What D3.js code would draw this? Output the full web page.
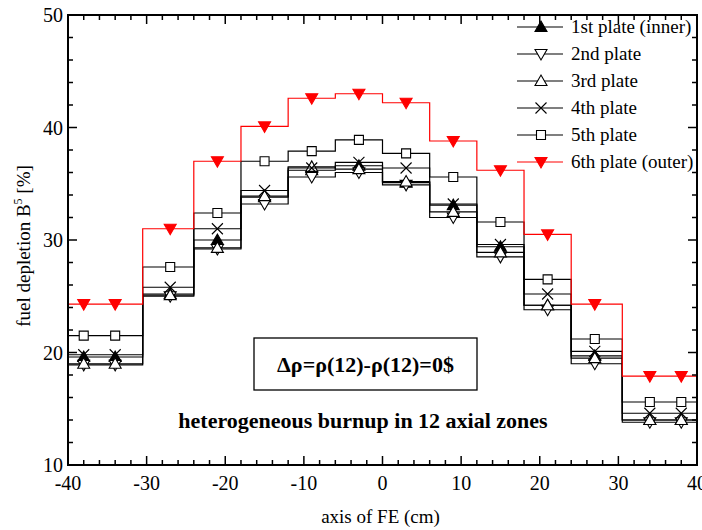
<!DOCTYPE html>
<html><head><meta charset="utf-8">
<script src="https://cdn.jsdelivr.net/npm/d3@7"></script>
<style>
html,body{margin:0;padding:0;background:#fff;}
svg{display:block;font-family:"Liberation Serif","Times New Roman",serif;}
</style></head>
<body>
<svg id="chart" width="702" height="530"></svg>
<script>
// ---- data ----
const zoneEdges = [-40, -30.5, -24, -18, -12, -6, 0, 6, 12, 18, 24, 30.5, 40];
const markerX = [-38, -34, -27, -21, -15, -9, -3, 3, 9, 15, 21, 27, 34, 38];
const markerZone = [0, 0, 1, 2, 3, 4, 5, 6, 7, 8, 9, 10, 11, 11];
const seriesNames = ["1st plate (inner)", "2nd plate", "3rd plate", "4th plate", "5th plate", "6th plate (outer)"];
const plate1 = [19.6, 25.2, 30.0, 33.8, 36.2, 36.6, 35.1, 33.1, 29.4, 24.2, 19.7, 14.0];
const plate2 = [18.9, 25.0, 29.2, 33.2, 35.6, 36.0, 34.9, 32.0, 28.5, 23.8, 19.0, 13.8];
const plate3 = [19.0, 25.1, 29.3, 33.9, 36.5, 36.3, 35.2, 32.5, 28.9, 24.2, 19.5, 14.0];
const plate4 = [19.8, 25.8, 31.0, 34.4, 36.4, 36.9, 36.4, 33.2, 29.6, 25.2, 20.1, 14.6];
const plate5 = [21.5, 27.6, 32.4, 37.0, 37.9, 38.9, 37.7, 35.6, 31.6, 26.5, 21.2, 15.6];
const plate6 = [24.3, 31.0, 37.0, 40.1, 42.6, 43.0, 42.2, 38.8, 36.2, 30.5, 24.3, 17.9];
const xTicks = [-40, -30, -20, -10, 0, 10, 20, 30, 40];
const yTicks = [10, 20, 30, 40, 50];
const xLabel = "axis of FE (cm)";
const annotation1 = "\u0394\u03c1=\u03c1(12)-\u03c1(12)=0$";
const annotation2 = "heterogeneous burnup in 12 axial zones";

// ---- style ----
const styles = [
  {sym: "tri", fill: "#000", stroke: "#000", line: "#000"},
  {sym: "dtri", fill: "#fff", stroke: "#000", line: "#000"},
  {sym: "tri", fill: "#fff", stroke: "#000", line: "#000"},
  {sym: "x", fill: "none", stroke: "#000", line: "#000"},
  {sym: "sq", fill: "#fff", stroke: "#000", line: "#000"},
  {sym: "dtri", fill: "#ff0000", stroke: "#ff0000", line: "#ff0000"}
];
const allSeries = [plate1, plate2, plate3, plate4, plate5, plate6];

const svg = d3.select("#chart");
const L = 68, R = 697, T = 15, B = 465;
const x = d3.scaleLinear().domain([-40, 40]).range([L, R]);
const y = d3.scaleLinear().domain([10, 50]).range([B, T]);

function symPath(s) {
  if (s === "tri") return "M-6,4.5L6,4.5L0,-6Z";
  if (s === "dtri") return "M-6,-4.5L6,-4.5L0,6Z";
  if (s === "sq") return "M-4.5,-4.5H4.5V4.5H-4.5Z";
  if (s === "x") return "M-5.5,-5.5L5.5,5.5M-5.5,5.5L5.5,-5.5";
}

// ---- series ----
allSeries.forEach((vals, si) => {
  const st = styles[si];
  const pts = [];
  vals.forEach((v, i) => {
    pts.push([zoneEdges[i], v]);
    pts.push([zoneEdges[i + 1], v]);
  });
  const line = d3.line().x(d => x(d[0])).y(d => y(d[1]));
  svg.append("path").attr("d", line(pts)).attr("fill", "none")
    .attr("stroke", st.line).attr("stroke-width", 1.2);
  const g = svg.append("g");
  markerX.forEach((mx, k) => {
    g.append("path").attr("d", symPath(st.sym))
      .attr("transform", `translate(${x(mx)},${y(vals[markerZone[k]])})`)
      .attr("fill", st.fill).attr("stroke", st.stroke).attr("stroke-width", 1.1);
  });
});

// ---- axes (inward ticks on all four sides) ----
const axG = svg.append("g");
function drawXTicks(yPos, dir) {
  x.ticks(40).forEach(v => {
    const len = xTicks.includes(v) ? 9 : 5;
    axG.append("line").attr("x1", x(v)).attr("x2", x(v))
      .attr("y1", yPos).attr("y2", yPos + dir * len)
      .attr("stroke", "#000").attr("stroke-width", 1.5);
  });
}
function drawYTicks(xPos, dir) {
  y.ticks(20).forEach(v => {
    const len = yTicks.includes(v) ? 9 : 5;
    axG.append("line").attr("y1", y(v)).attr("y2", y(v))
      .attr("x1", xPos).attr("x2", xPos + dir * len)
      .attr("stroke", "#000").attr("stroke-width", 1.5);
  });
}
drawXTicks(B, -1); drawXTicks(T, 1);
drawYTicks(L, 1); drawYTicks(R, -1);
axG.append("rect").attr("x", L).attr("y", T).attr("width", R - L).attr("height", B - T)
  .attr("fill", "none").attr("stroke", "#000").attr("stroke-width", 2);

xTicks.forEach(v => {
  svg.append("text").attr("x", x(v)).attr("y", B + 25).attr("text-anchor", "middle")
    .attr("font-size", 20).text(v);
});
yTicks.forEach(v => {
  svg.append("text").attr("x", L - 5).attr("y", y(v) + 7).attr("text-anchor", "end")
    .attr("font-size", 20).text(v);
});

svg.append("text").attr("x", (L + R) / 2 - 2).attr("y", 523).attr("text-anchor", "middle")
  .attr("font-size", 19).text(xLabel);

const yl = svg.append("text").attr("transform", `translate(30,${(T + B) / 2 + 6}) rotate(-90)`)
  .attr("text-anchor", "middle").attr("font-size", 19);
yl.append("tspan").text("fuel depletion B");
yl.append("tspan").attr("dy", -8).attr("font-size", 12).text("5");
yl.append("tspan").attr("dy", 8).text(" [%]");

// ---- legend ----
const lg = svg.append("g");
seriesNames.forEach((name, i) => {
  const st = styles[i];
  const ly = 27 + i * 27;
  lg.append("line").attr("x1", 517).attr("x2", 563).attr("y1", ly).attr("y2", ly)
    .attr("stroke", st.line).attr("stroke-width", 1.2);
  lg.append("path").attr("d", symPath(st.sym)).attr("transform", `translate(541,${ly})`)
    .attr("fill", st.fill).attr("stroke", st.stroke).attr("stroke-width", 1.1);
  lg.append("text").attr("x", 571).attr("y", ly + 6).attr("font-size", 19).text(name);
});

// ---- annotations ----
svg.append("rect").attr("x", 254).attr("y", 338).attr("width", 223).attr("height", 52)
  .attr("fill", "#fff").attr("stroke", "#000").attr("stroke-width", 1.3);
svg.append("text").attr("x", 365.5).attr("y", 372).attr("text-anchor", "middle")
  .attr("font-size", 22).attr("font-weight", "bold").text(annotation1);
svg.append("text").attr("x", 363).attr("y", 428).attr("text-anchor", "middle")
  .attr("font-size", 22).attr("font-weight", "bold").text(annotation2);
</script>
</body></html>
